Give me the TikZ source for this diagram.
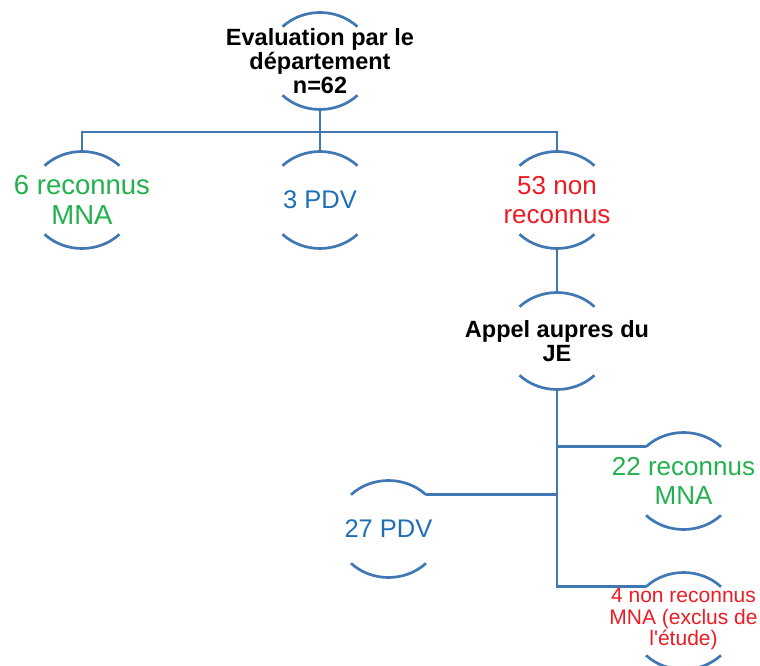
\documentclass[tikz,border=0pt]{standalone}
\usepackage{fontspec}
\setmainfont{Liberation Sans}
\newfontfamily\rawfont{Liberation Sans}[Ligatures=TeXOff]
\usetikzlibrary{calc}
\definecolor{linec}{RGB}{65,120,180}
\definecolor{tblue}{RGB}{30,111,186}
\definecolor{tgreen}{RGB}{34,177,76}
\definecolor{tred}{RGB}{237,28,36}
% ring: x radius 53, y radius 48.5; arc ends at 45 degrees -> (37.48, 34.29)
\newcommand\ringnode[2]{%
  \coordinate (#1) at #2;
  \coordinate (#1-top) at ($(#1)+(0,48.5)$);
  \coordinate (#1-bot) at ($(#1)+(0,-48.5)$);
  \coordinate (#1-tl) at ($(#1)+(-37.48,34.29)$);
  \coordinate (#1-tr) at ($(#1)+(37.48,34.29)$);
  \coordinate (#1-bl) at ($(#1)+(-37.48,-34.29)$);
  \draw[arcline] (#1-tr) arc[start angle=45,end angle=135,x radius=53pt,y radius=48.5pt];
  \draw[arcline] (#1-bl) arc[start angle=225,end angle=315,x radius=53pt,y radius=48.5pt];
}
\begin{document}
\begin{tikzpicture}[x=1pt,y=1pt,
  arcline/.style={draw=linec,line width=2.7pt},
  conn/.style={draw=linec,line width=2.7pt},
  lbl/.style={align=center,inner sep=0pt},
  boldlbl/.style={lbl,font=\fontsize{23.5}{24}\selectfont\bfseries,text=black},
  biglbl/.style={lbl,font=\fontsize{26}{29}\selectfont},
  pdvlbl/.style={lbl,font=\fontsize{25.5}{29}\selectfont,text=tblue},
  smalllbl/.style={lbl,font=\fontsize{21}{21.5}\selectfont,text=tred}
]
\useasboundingbox (0,0) rectangle (760,665);
\fill[white] (0,0) rectangle (760,665);

% ring shapes
\ringnode{n0}{(320,604)}
\ringnode{nL}{(82,465)}
\ringnode{nM}{(320,465)}
\ringnode{nR}{(557,465)}
\ringnode{nA}{(557,324)}
\ringnode{n22}{(683.5,184)}
\ringnode{n27}{(388.5,136)}
\ringnode{n4}{(683.5,44)}

% connectors
\coordinate (bar) at (320,533);
\draw[conn] (n0-bot) -- (bar);
\draw[conn] (nL-top) |- (bar) -| (nR-top);
\draw[conn] (nM-top) -- (bar);
\draw[conn] (nR-bot) -- (nA-top);
\draw[conn] (nA-bot) |- (n4-tl);
\draw[conn] (nA-bot) |- (n22-tl);
\draw[conn] (nA-bot) |- (n27-tr);

% labels
\node[boldlbl] (t0) at (n0) {Evaluation par le\\département\\n=62};
\node[biglbl,text=tgreen,font=\fontsize{27.5}{29.5}\selectfont] (tL) at (nL) {6 reconnus\\MNA};
\node[pdvlbl] (tM) at (nM) {3 PDV};
\node[biglbl,text=tred] (tR) at (nR) {53 non\\reconnus};
\node[boldlbl] (tA) at (nA) {Appel aupres du\\JE};
\node[biglbl,text=tgreen] (t22) at (n22) {22 reconnus\\MNA};
\node[pdvlbl] (t27) at (n27) {27 PDV};
\node[smalllbl] (t4) at ($(n4)+(0,2)$) {4 non reconnus\\MNA (exclus de\\l{\rawfont'}étude)};
\end{tikzpicture}
\end{document}
